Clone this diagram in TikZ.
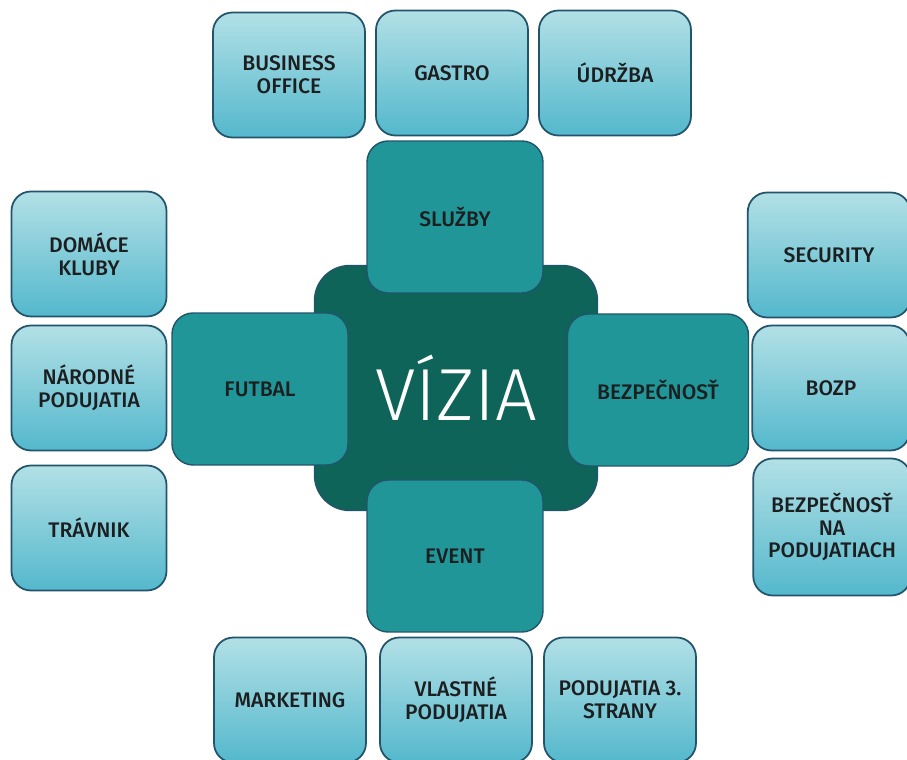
\documentclass[tikz,border=0pt]{standalone}
\usepackage{fontspec}
\setmainfont{Fira Sans}[BoldFont={Fira Sans Medium}]
\newfontfamily\thinfont{Fira Sans Light}
\usepackage{tikz}

\definecolor{leafTop}{RGB}{178,224,230}
\definecolor{leafBot}{RGB}{84,184,204}
\definecolor{leafLine}{RGB}{34,84,108}
\definecolor{branchFill}{RGB}{32,150,152}
\definecolor{coreFill}{RGB}{14,100,88}
\definecolor{labelInk}{RGB}{28,30,32}

\tikzset{
  leaf/.style={rectangle, rounded corners=11pt, draw=leafLine, line width=1pt,
               top color=leafTop, bottom color=leafBot, align=center,
               text=labelInk, font=\bfseries\fontsize{12}{13}\selectfont,
               minimum width=3.04cm, minimum height=2.5cm, inner sep=1pt},
  branch/.style={rectangle, rounded corners=12pt, draw=leafLine, line width=0.8pt,
                 fill=branchFill, align=center, text=labelInk,
                 font=\bfseries\fontsize{12}{13}\selectfont,
                 minimum width=3.52cm, minimum height=3.04cm},
  core/.style={rectangle, rounded corners=20pt, draw=leafLine, line width=0.8pt,
               fill=coreFill, text=white, font=\thinfont\fontsize{42}{42}\selectfont,
               minimum width=5.66cm, minimum height=4.9cm}
}

\begin{document}
\begin{tikzpicture}[x=0.02cm,y=-0.02cm]
  \useasboundingbox (0,0) rectangle (907,760);
  \fill[white] (0,0) rectangle (907,760);

  % stred
  \node[core]   (vizia)   at (456,388) {V\'IZIA};
  \node[branch] (sluzby)  at (455,217) {SLU\v{Z}BY};
  \node[branch] (futbal)  at (260,389) {FUTBAL};
  \node[branch, minimum width=3.62cm] (bezp) at (658,390) {BEZPE\v{C}NOS\v{T}};
  \node[branch] (event)   at (455,556) {EVENT};

  % horny rad
  \node[leaf] (busoff)  at (289,75) {BUSINESS\\OFFICE};
  \node[leaf] (gastro)  at (452,73) {GASTRO};
  \node[leaf] (udrzba)  at (615,73) {\'UDR\v{Z}BA};

  % lavy stlpec
  \node[leaf, minimum width=3.1cm] (domace)  at (89,254) {DOM\'ACE\\KLUBY};
  \node[leaf, minimum width=3.1cm] (narodne) at (89,388) {N\'ARODN\'E\\PODUJATIA};
  \node[leaf, minimum width=3.1cm] (travnik) at (89,528) {TR\'AVNIK};

  % pravy stlpec
  \node[leaf, minimum width=3.25cm] (security) at (829,255) {SECURITY};
  \node[leaf, minimum width=3.15cm] (bozp)     at (831,388) {BOZP};
  \node[leaf, minimum width=3.15cm, minimum height=2.74cm] (bezpna) at (832,527)
       {BEZPE\v{C}NOS\v{T}\\NA\\PODUJATIACH};

  % dolny rad
  \node[leaf] (marketing) at (290,700) {MARKETING};
  \node[leaf] (vlastne)   at (456,700) {VLASTN\'E\\PODUJATIA};
  \node[leaf] (tretie)    at (620,700) {PODUJATIA 3.\\STRANY};
\end{tikzpicture}
\end{document}
